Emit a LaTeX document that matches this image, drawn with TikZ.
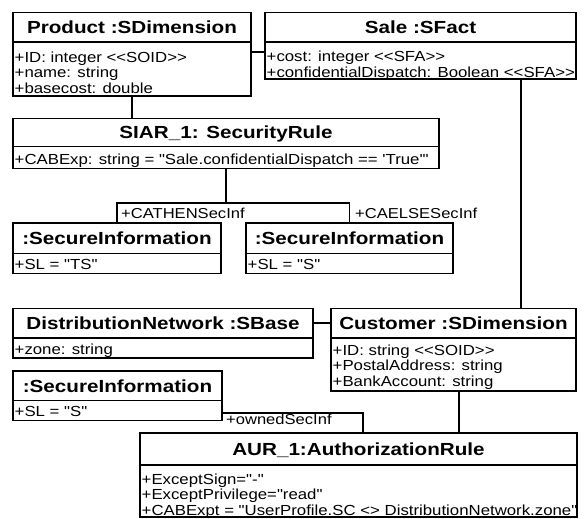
\documentclass[tikz,border=0pt]{standalone}
\usepackage{fontspec}
\setmainfont{Liberation Sans}[FakeStretch=1.18, Ligatures=TeXOff]
\newfontfamily\attfont{Liberation Sans}[FakeStretch=1.15, Ligatures=TeXOff]
\tikzset{
  box/.style={draw, line width=1.8pt, outer sep=0pt, inner sep=0pt},
  ttlbox/.style={box, font=\fontsize{17.5}{20}\selectfont\bfseries, text height=12.6pt, text depth=0pt},
  attbox/.style={box},
  atttxt/.style={font=\attfont\fontsize{14.6}{15.5}\selectfont, align=left, inner sep=0pt, anchor=north west},
  conn/.style={line width=1.8pt},
  lbl/.style={font=\attfont\fontsize{14.4}{15}\selectfont, inner sep=0pt, anchor=base west},
}
% #1 name, #2 x, #3 top y, #4 width, #5 title height, #6 attr height, #7 title, #8 attributes, #9 first baseline offset
\newcommand\umlobj[9]{%
  \node[ttlbox, minimum width=#4pt, minimum height=#5pt, anchor=north west] (#1T) at (#2,#3) {#7};
  \node[attbox, minimum width=#4pt, minimum height=#6pt, anchor=north west] (#1A) at (#1T.south west) {};
  \node[atttxt] (#1L) at ([xshift=1.5pt,yshift={(11-#9)*1pt}]#1A.north west) {\rule{0pt}{11pt}#8};
}
\begin{document}
\begin{tikzpicture}[x=1pt,y=-1pt]
\useasboundingbox (0,0) rectangle (586,519);
\umlobj{prod}{13}{12.5}{238}{29.5}{54}{Product :SDimension}{+ID: integer <{}<SOID>{}>\\+name: string\\+basecost: double}{20}
\umlobj{sale}{265}{12.5}{311}{29.5}{37}{Sale :SFact}{+cost: integer <{}<SFA>{}>\\+confidentialDispatch: Boolean <{}<SFA>{}>}{19.5}
\umlobj{siar}{13}{118.5}{426}{28}{22}{SIAR\_1: SecurityRule}{+CABExp: string = "Sale.confidentialDispatch == 'True'"}{18}
\umlobj{sia}{13}{223}{208}{30.5}{20}{:SecureInformation}{+SL = "TS"}{16}
\umlobj{sib}{246}{223}{207}{30.5}{20}{:SecureInformation}{+SL = "S"}{16}
\umlobj{dn}{13}{308.5}{300}{29.5}{20}{DistributionNetwork :SBase}{+zone: string}{16}
\umlobj{cust}{331}{308.5}{245}{29.5}{53}{Customer :SDimension}{+ID: string <{}<SOID>{}>\\+PostalAddress: string\\+BankAccount: string}{17}
\umlobj{sic}{13}{371}{209}{29.5}{20}{:SecureInformation}{+SL = "S"}{16}
\umlobj{aur}{140}{433}{437}{32}{52}{AUR\_1:AuthorizationRule}{+ExceptSign="-"\\+ExceptPrivilege="read"\\+CABExpt = "UserProfile.SC <> DistributionNetwork.zone"}{19}

\coordinate (split) at ([yshift=-34.5pt]siarA.south);
\draw[conn] (prodA.south) -- (prodA.south |- siarT.north);
\draw[conn] ([yshift=-10pt]prodA.north east) -- ([yshift=-10pt]saleA.north west);
\draw[conn] (siarA.south) -- (split);
\draw[conn] (split) -| (siaT.north);
\draw[conn] (split) -| (sibT.north);
\draw[conn] ([xshift=-55pt]saleA.south east) -- ([xshift=-55pt]custT.north east);
\draw[conn] (dnT.east) -- (custT.west);
\draw[conn] ([yshift=-12.5pt]sicA.north east) -| ([xshift=223pt]aurT.north west);
\draw[conn] ([xshift=128pt]custA.south west) -- ([xshift=319pt]aurT.north west);

\node[lbl] (lthen) at ([xshift=4pt,yshift=5pt]siaT.north) {+CATHENSecInf};
\node[lbl] (lelse) at ([xshift=5.5pt,yshift=5pt]sibT.north) {+CAELSESecInf};
\node[lbl] (lowned) at ([xshift=4pt,yshift=-23.5pt]sicA.north east) {+ownedSecInf};
\end{tikzpicture}
\end{document}
